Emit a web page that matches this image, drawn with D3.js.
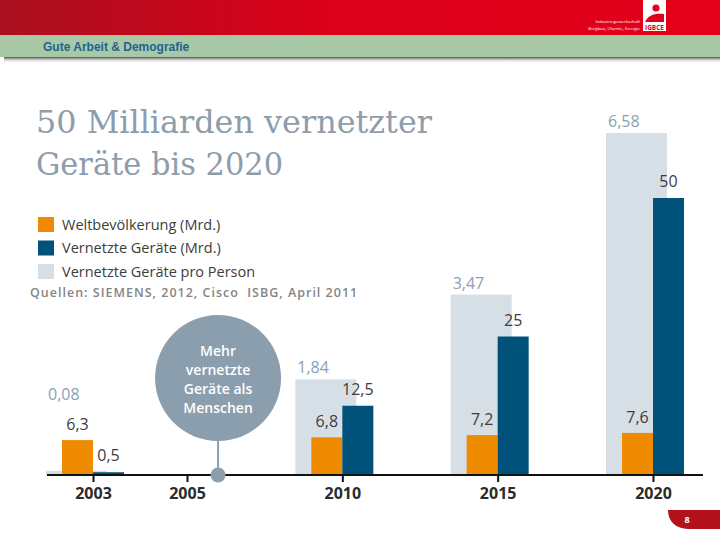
<!DOCTYPE html>
<html>
<head>
<meta charset="utf-8">
<script src="https://cdn.jsdelivr.net/npm/d3@7"></script>
<style>
  body { margin: 0; background: #fff; }
  svg { display: block; }
</style>
</head>
<body>
<div id="chart"></div>
<script>
// Daten
const years = [2003, 2010, 2015, 2020];
const population = [6.3, 6.8, 7.2, 7.6];     // Weltbevölkerung (Mrd.)
const devices = [0.5, 12.5, 25, 50];         // Vernetzte Geräte (Mrd.)
const perPerson = [0.08, 1.84, 3.47, 6.58];  // Vernetzte Geräte pro Person
const tickYears = [2003, 2005, 2010, 2015, 2020];
const eventYear = 2006;
const seriesNames = ["Weltbevölkerung (Mrd.)", "Vernetzte Geräte (Mrd.)", "Vernetzte Geräte pro Person"];
const eventLines = ["Mehr", "vernetzte", "Geräte als", "Menschen"];

const width = 720;
const height = 540;
const colors = ["#ef8b00", "#00527a", "#d6dee6"];
const sans = "'Open Sans', 'Noto Sans', sans-serif";

const de = d3.formatLocale({ decimal: ",", thousands: ".", grouping: [3], currency: ["", " €"] });
const fmt = de.format("~g");

const svg = d3.select("#chart")
  .append("svg")
  .attr("width", width)
  .attr("height", height);

// Kopfzeile
const defs = svg.append("defs");
const grad = defs.append("linearGradient").attr("id", "red");
grad.append("stop").attr("offset", "0%").attr("stop-color", "#a9101f");
grad.append("stop").attr("offset", "45%").attr("stop-color", "#dc001a");
grad.append("stop").attr("offset", "100%").attr("stop-color", "#e3001b");
const shade = defs.append("linearGradient").attr("id", "shade").attr("x2", 0).attr("y2", 1);
shade.append("stop").attr("offset", "0%").attr("stop-color", "#4a4a4a");
shade.append("stop").attr("offset", "100%").attr("stop-color", "#fff").attr("stop-opacity", 0);

svg.append("rect").attr("width", width).attr("height", 35).attr("fill", "url(#red)");
svg.append("rect").attr("x", 4).attr("y", 57).attr("width", width - 4).attr("height", 6).attr("fill", "url(#shade)");
svg.append("rect").attr("y", 35).attr("width", width).attr("height", 22).attr("fill", "#a9c9a6");
svg.append("text")
  .attr("x", 43).attr("y", 51)
  .attr("font-family", "'Liberation Sans Narrow', 'Arial Narrow', sans-serif")
  .attr("font-stretch", "condensed")
  .attr("font-weight", "bold")
  .attr("font-size", 12)
  .attr("fill", "#1f6393")
  .text("Gute Arbeit & Demografie");

// Logo
svg.append("rect").attr("x", 643).attr("y", 0).attr("width", 23).attr("height", 31).attr("fill", "#fff");
svg.append("circle").attr("cx", 656).attr("cy", 8).attr("r", 3.6).attr("fill", "#e3001b");
svg.append("path")
  .attr("d", "M645,22 C648,15 655,13 664,14 L664,22 Z")
  .attr("fill", "#e3001b");
svg.append("text")
  .attr("x", 654.5).attr("y", 29.5)
  .attr("text-anchor", "middle")
  .attr("font-family", sans).attr("font-weight", "bold")
  .attr("font-size", 6.5).attr("fill", "#e3001b")
  .text("IGBCE");
svg.append("g")
  .attr("font-family", sans).attr("font-size", 4.3).attr("fill", "#fff").attr("text-anchor", "end")
  .selectAll("text")
  .data(["Industriegewerkschaft", "Bergbau, Chemie, Energie"])
  .join("text")
  .attr("x", 640)
  .attr("y", (d, i) => 23 + i * 7)
  .text(d => d);

// Titel
svg.append("g")
  .attr("font-family", "'DejaVu Serif', 'Liberation Serif', serif")
  .attr("font-size", 31)
  .attr("fill", "#8d9dab")
  .selectAll("text")
  .data([["50 Milliarden vernetzter", 396], ["Geräte bis 2020", 247]])
  .join("text")
  .attr("x", 36)
  .attr("y", (d, i) => 133 + i * 42)
  .attr("textLength", d => d[1])
  .attr("lengthAdjust", "spacingAndGlyphs")
  .text(d => d[0]);

// Legende
const legend = svg.append("g");
const item = legend.selectAll("g")
  .data(seriesNames)
  .join("g")
  .attr("transform", (d, i) => `translate(38,${217 + i * 23.5})`);
item.append("rect").attr("width", 16).attr("height", 15).attr("fill", (d, i) => colors[i]);
item.append("text")
  .attr("x", 24).attr("y", 12.5)
  .attr("font-family", sans).attr("font-size", 14.5)
  .attr("fill", "#3d3d3d")
  .text(d => d);
svg.append("text")
  .attr("x", 30).attr("y", 297)
  .attr("xml:space", "preserve")
  .attr("font-family", sans).attr("font-size", 12.5).attr("font-weight", 600)
  .attr("letter-spacing", 1)
  .attr("fill", "#858585")
  .text("Quellen: SIEMENS, 2012, Cisco\u00a0 ISBG, April 2011");

// Skalen
const base = 475;
const x = d3.scaleLinear().domain([2003, 2005, 2020]).range([93, 187, 653]);
const yCount = d3.scaleLinear().domain([0, 50]).range([base, 198]);
const yPer = d3.scaleLinear().domain([0, 6.58]).range([base, 133]);

const rows = years.map((yr, i) => ({ yr, pop: population[i], dev: devices[i], per: perPerson[i] }));

// Geräte pro Person (Hintergrundbalken)
svg.append("g").selectAll("rect")
  .data(rows)
  .join("rect")
  .attr("x", d => x(d.yr) - 47)
  .attr("y", d => yPer(d.per))
  .attr("width", 61)
  .attr("height", d => base - yPer(d.per))
  .attr("fill", colors[2]);

svg.append("g").selectAll("rect")
  .data(rows)
  .join("rect")
  .attr("x", d => x(d.yr) - 31)
  .attr("y", d => yCount(d.pop))
  .attr("width", 31)
  .attr("height", d => base - yCount(d.pop))
  .attr("fill", colors[0]);

svg.append("g").selectAll("rect")
  .data(rows)
  .join("rect")
  .attr("x", d => x(d.yr))
  .attr("y", d => yCount(d.dev))
  .attr("width", 31)
  .attr("height", d => base - yCount(d.dev))
  .attr("fill", colors[1]);

// Beschriftungen
const labels = svg.append("g").attr("font-family", sans).attr("font-size", 16);
labels.selectAll(".per")
  .data(rows)
  .join("text")
  .attr("x", d => x(d.yr) - 45)
  .attr("y", d => Math.min(yPer(d.per) - 6, yCount(d.pop) - 40))
  .attr("fill", "#8d9fb0")
  .text(d => fmt(d.per));
labels.selectAll(".pop")
  .data(rows)
  .join("text")
  .attr("x", d => x(d.yr) - 15.5)
  .attr("y", d => yCount(d.pop) - 10)
  .attr("text-anchor", "middle")
  .attr("fill", "#3d3d3d")
  .text(d => fmt(d.pop));
labels.selectAll(".dev")
  .data(rows)
  .join("text")
  .attr("x", d => x(d.yr) + 15.5)
  .attr("y", d => yCount(d.dev) - 11)
  .attr("text-anchor", "middle")
  .attr("fill", "#3d3d3d")
  .text(d => fmt(d.dev));

// Achse
svg.append("line")
  .attr("x1", 47).attr("x2", 703)
  .attr("y1", base).attr("y2", base)
  .attr("stroke", "#111").attr("stroke-width", 2);
const axis = svg.append("g")
  .attr("transform", `translate(0,${base})`)
  .call(d3.axisBottom(x).tickValues(tickYears).tickSize(7).tickPadding(6).tickFormat(d3.format("d")));
axis.select(".domain").remove();
axis.selectAll(".tick line").attr("stroke", "#111").attr("stroke-width", 2);
axis.selectAll(".tick text")
  .attr("font-family", sans).attr("font-size", 16).attr("font-weight", "bold")
  .attr("fill", "#2b2b2b");

// Ereignis-Kreis
const ex = x(eventYear);
svg.append("line")
  .attr("x1", ex).attr("x2", ex)
  .attr("y1", 430).attr("y2", base)
  .attr("stroke", "#8b9eae").attr("stroke-width", 2);
svg.append("circle").attr("cx", ex).attr("cy", base).attr("r", 7.5).attr("fill", "#8b9eae");
svg.append("circle").attr("cx", ex).attr("cy", 378).attr("r", 63).attr("fill", "#8b9eae");
svg.append("g")
  .attr("font-family", sans).attr("font-size", 14).attr("font-weight", 600)
  .attr("fill", "#fff").attr("text-anchor", "middle")
  .selectAll("text")
  .data(eventLines)
  .join("text")
  .attr("x", ex)
  .attr("y", (d, i) => 356 + i * 19)
  .text(d => d);

// Seitenzahl
svg.append("path")
  .attr("d", "M668,510 L720,510 L720,529 L690,529 C676,529 668,522 668,510 Z")
  .attr("fill", "#b3121d");
svg.append("text")
  .attr("x", 687).attr("y", 523)
  .attr("font-family", sans).attr("font-size", 9).attr("font-weight", "bold")
  .attr("fill", "#fff").attr("text-anchor", "middle")
  .text("8");
</script>
</body>
</html>
